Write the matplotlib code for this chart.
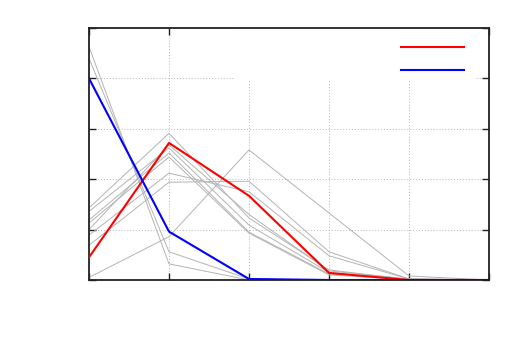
import numpy as np
import matplotlib
matplotlib.use('Agg')
import matplotlib.pyplot as plt
from matplotlib.patches import Rectangle

x = [0, 1, 2, 3, 4, 5]

red = [0.45, 2.72, 1.67, 0.14, 0.0, 0.0]
blue = [4.0, 0.96, 0.02, 0.0, 0.0, 0.0]

grays = [
    [4.63, 0.32, 0.0, 0.0, 0.0, 0.0],
    [4.40, 0.56, 0.02, 0.0, 0.0, 0.0],
    [0.05, 0.86, 2.58, 1.33, 0.08, 0.0],
    [0.69, 1.94, 1.96, 0.56, 0.02, 0.0],
    [0.89, 2.12, 1.75, 0.48, 0.02, 0.0],
    [1.43, 2.91, 1.23, 0.20, 0.01, 0.0],
    [1.36, 2.62, 1.09, 0.15, 0.01, 0.0],
    [1.19, 2.52, 0.95, 0.12, 0.01, 0.0],
    [1.13, 2.44, 0.93, 0.10, 0.01, 0.0],
    [1.00, 2.68, 1.30, 0.18, 0.02, 0.0],
]

fig = plt.figure(figsize=(5.32, 3.55), dpi=100)
ax = fig.add_axes([89/532, 1-280/355, 400/532, 252/355])

for g in grays:
    ax.plot(x, g, color='#b4b4b4', lw=0.7, zorder=2)
l1, = ax.plot(x, red, color='#ff0000', lw=1.5, zorder=3)
l2, = ax.plot(x, blue, color='#0000ff', lw=1.5, zorder=3)

ax.set_xlim(0, 5)
ax.set_ylim(0, 5)
ax.set_xticks(range(6))
ax.set_yticks(range(6))
ax.set_xticklabels([])
ax.set_yticklabels([])
ax.tick_params(direction='in', length=5, width=1, top=True, right=True, color='#222222')
ax.set_axisbelow(True)
ax.grid(True, color='#b8b8b8', lw=0.7, ls=(0, (1, 2)))
for s in ax.spines.values():
    s.set_color('#222222')
    s.set_linewidth(1.3)

# key area hides the grid
ax.add_patch(Rectangle((0.365, 0.794), 0.6, 0.206, transform=ax.transAxes,
                       facecolor='white', edgecolor='none', zorder=1))

leg = ax.legend([l1, l2], [' ', ' '], loc='upper right', frameon=False,
                bbox_to_anchor=(0.99, 1.0), handlelength=4.5, fontsize=10,
                labelspacing=0.65, handletextpad=0.3)

fig.savefig('out.png', dpi=100)
